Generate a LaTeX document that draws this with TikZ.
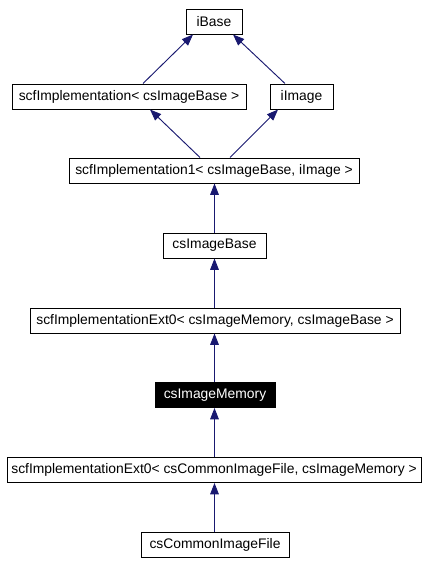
\documentclass[tikz,border=0pt]{standalone}
\usepackage{fontspec}
\setmainfont{Liberation Sans}
\usetikzlibrary{arrows.meta}
\definecolor{edgeblue}{RGB}{25,25,112}
\begin{document}
\begin{tikzpicture}[x=0.75pt,y=-0.75pt,
  cls/.style={draw=black,line width=0.75pt,minimum height=18.75pt,inner sep=0pt,font=\fontsize{10.4}{12}\selectfont,fill=white},
  cur/.style={cls,fill=black,text=white},
  edge/.style={draw=edgeblue,line width=0.7pt,-{Triangle[length=8.5pt,width=6.5pt]},color=edgeblue}]
\useasboundingbox (0,0) rectangle (428,564);
\node[cls,minimum width=42pt] (ibase) at (214,21.5) {iBase};
\node[cls,minimum width=175.5pt] (scfimpl) at (129,96.5) {scfImplementation< csImageBase >};
\node[cls,minimum width=47.25pt] (iimage) at (301.5,96.5) {iImage};
\node[cls,minimum width=217.5pt] (scfimpl1) at (214,170.5) {scfImplementation1< csImageBase, iImage >};
\node[cls,minimum width=77.25pt] (imgbase) at (214.5,245.5) {csImageBase};
\node[cls,minimum width=277.5pt] (ext0a) at (215,320.5) {scfImplementationExt0< csImageMemory, csImageBase >};
\node[cur,minimum width=90pt] (imgmem) at (215,395) {csImageMemory};
\node[cls,minimum width=310.5pt] (ext0b) at (214,470) {scfImplementationExt0< csCommonImageFile, csImageMemory >};
\node[cls,minimum width=111pt] (common) at (215,545) {csCommonImageFile};
\draw[edge] ([xshift=10.5pt]scfimpl.north) -- ([xshift=-15.75pt]ibase.south);
\draw[edge] ([xshift=-12.4pt]iimage.north) -- ([xshift=14.25pt]ibase.south);
\draw[edge] ([xshift=-10.5pt]scfimpl1.north) -- ([xshift=15.75pt]scfimpl.south);
\draw[edge] ([xshift=12pt]scfimpl1.north) -- ([xshift=-17.6pt]iimage.south);
\draw[edge] (imgbase.north) -- (imgbase.north |- scfimpl1.south);
\draw[edge] (ext0a.north -| imgbase.north) -- (imgbase.south);
\draw[edge] (imgmem.north -| imgbase.north) -- (ext0a.south -| imgbase.north);
\draw[edge] (ext0b.north -| imgbase.north) -- (imgmem.south -| imgbase.north);
\draw[edge] (common.north -| imgbase.north) -- (ext0b.south -| imgbase.north);
\end{tikzpicture}
\end{document}
